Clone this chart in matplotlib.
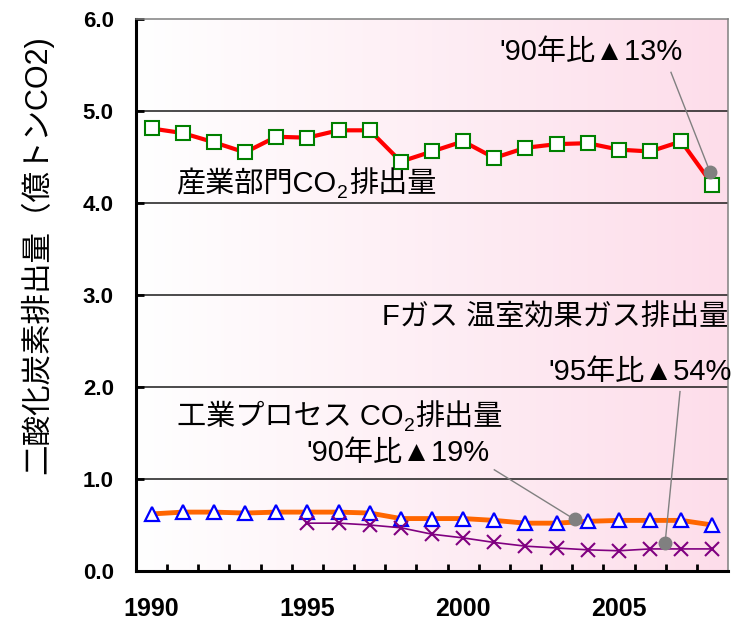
import numpy as np
import matplotlib
matplotlib.use('Agg')
import matplotlib.pyplot as plt
from matplotlib.colors import LinearSegmentedColormap

plt.rcParams['font.family'] = ['Liberation Sans', 'Noto Sans CJK JP', 'DejaVu Sans']

# 排出量データ（億トンCO2）
years = list(range(1990, 2009))
industry_co2 = [4.81, 4.76, 4.66, 4.55, 4.72, 4.71, 4.79, 4.79, 4.45, 4.56,
                4.67, 4.49, 4.60, 4.64, 4.65, 4.58, 4.56, 4.67, 4.20]
process_co2 = [0.62, 0.64, 0.64, 0.63, 0.64, 0.64, 0.64, 0.63, 0.57, 0.57,
               0.57, 0.55, 0.52, 0.52, 0.54, 0.55, 0.55, 0.55, 0.50]
fgas = [np.nan] * 5 + [0.52, 0.52, 0.50, 0.47, 0.40, 0.36, 0.31, 0.27, 0.25,
                       0.23, 0.22, 0.24, 0.24, 0.24]
label_years = [1990, 1995, 2000, 2005]
y_ticks = [0, 1, 2, 3, 4, 5, 6]

# 吹き出し：（文字, 文字位置, 引出線の始点, 指す点）
callouts = [
    ("'90年比▲13%", (2004.1, 5.64), (2006.67, 5.42), (2007.92, 4.34)),
    ("'90年比▲19%", (1997.9, 1.28), (2001.0, 1.10), (2003.58, 0.56)),
]

FS = 21

fig = plt.figure(figsize=(7.4, 6.2), dpi=100)
ax = fig.add_axes([136 / 740, 1 - 571 / 620, 592 / 740, 552 / 620])

# 背景のグラデーション（白→ピンク）
cmap = LinearSegmentedColormap.from_list('bg', ['#FFFFFF', '#FDDDEA'])
ax.imshow(np.linspace(0, 1, 256).reshape(1, -1), cmap=cmap, aspect='auto',
          extent=(0, 1, 0, 1), transform=ax.transAxes, zorder=0)

for v in y_ticks[1:-1]:
    ax.axhline(v, color='#1a1a1a', lw=1.1, zorder=1)

ax.plot(years, process_co2, color='#FF6600', lw=3.5, zorder=2,
        marker='^', ms=10, mfc='white', mec='#0000FF', mew=1.6)
ax.plot(years, fgas, color='#800080', lw=1.2, zorder=3,
        marker='x', ms=10, mec='#800080', mew=1.5)
ax.plot(years, industry_co2, color='#FF0000', lw=3, zorder=3,
        marker='s', ms=9.5, mfc='white', mec='#008000', mew=1.5)

for text, txy, start, pt in callouts:
    ax.plot([start[0], pt[0]], [start[1], pt[1]], color='#808080', lw=1, zorder=4)
    ax.plot(*pt, 'o', color='#808080', ms=9, zorder=5)
    ax.text(*txy, text, fontsize=FS, ha='center', va='center', zorder=6)

# Fガスの引出線
fgas_pt = (2006.48, 0.30)
ax.plot([2006.96, fgas_pt[0]], [1.95, fgas_pt[1]], color='#808080', lw=1, zorder=4)
ax.plot(*fgas_pt, 'o', color='#808080', ms=9, zorder=5)
ax.text(2008.5, 2.75, 'Fガス 温室効果ガス排出量', fontsize=FS, ha='right', va='center')
ax.text(2008.62, 2.16, "'95年比▲54%", fontsize=FS, ha='right', va='center',
        clip_on=False)


def co2_label(x, y, head, tail):
    # CO2 の「2」を下付きにして文字をつなげる
    t1 = ax.text(x, y, head, fontsize=FS, ha='left', va='bottom', zorder=6)
    t2 = ax.annotate('2', xy=(1, 0), xycoords=t1, xytext=(0.5, -2.5),
                     textcoords='offset points', fontsize=FS * 0.66,
                     ha='left', va='bottom', zorder=6)
    ax.annotate(tail, xy=(1, 0), xycoords=(t2, t1), xytext=(0.5, 0),
                textcoords='offset points', fontsize=FS,
                ha='left', va='bottom', zorder=6)


co2_label(1990.8, 4.05, '産業部門CO', '排出量')
co2_label(1990.8, 1.52, '工業プロセス CO', '排出量')

ax.set_xlim(1989.5, 2008.5)
ax.set_ylim(0, 6)
ax.set_xticks(label_years)
ax.set_xticklabels([str(y) for y in label_years])
ax.set_xticks(np.arange(1990.5, 2008.5, 1), minor=True)
ax.tick_params(axis='x', which='major', length=0, pad=19, labelsize=18)
ax.tick_params(axis='x', which='minor', direction='in', length=5, width=2)
ax.set_yticks(y_ticks)
ax.set_yticklabels([f'{v:.1f}' for v in y_ticks])
ax.tick_params(axis='y', direction='in', length=6, width=2, pad=16, labelsize=16)
for lab in ax.get_xticklabels() + ax.get_yticklabels():
    lab.set_fontweight('bold')

for side in ('left', 'bottom'):
    ax.spines[side].set_linewidth(2.2)
    ax.spines[side].set_color('black')
for side in ('top', 'right'):
    ax.spines[side].set_linewidth(1.1)
    ax.spines[side].set_color('#808080')

fig.text(37 / 740, 1 - 255 / 620, '二酸化炭素排出量（億トンCO2)', fontsize=22,
         rotation=90, ha='center', va='center')

fig.savefig('out.png', dpi=100)
